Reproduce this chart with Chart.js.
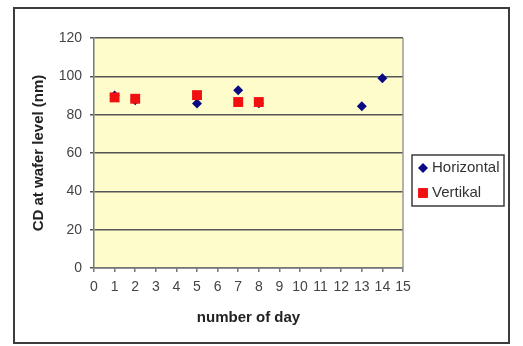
<!DOCTYPE html>
<html>
<head>
<meta charset="utf-8">
<script src="https://cdn.jsdelivr.net/npm/chart.js@4/dist/chart.umd.min.js"></script>
<style>
  html, body { margin: 0; padding: 0; background: #fff; }
  #wrap { width: 523px; height: 346px; }
</style>
</head>
<body>
<div id="wrap"><canvas id="cd"></canvas></div>
<script>
// CD measurements per day
const horizontalDays = [1, 2, 5, 7, 8, 13, 14];
const horizontalCD   = [90, 87.5, 85.8, 92.8, 86, 84.4, 99];
const vertikalDays   = [1, 2, 5, 7, 8];
const vertikalCD     = [89, 88.3, 90.2, 86.6, 86.6];

const seriesNames = ['Horizontal', 'Vertikal'];
const xTickValues = [0, 1, 2, 3, 4, 5, 6, 7, 8, 9, 10, 11, 12, 13, 14, 15];
const yTickValues = [0, 20, 40, 60, 80, 100, 120];

const toPoints = (xs, ys) => xs.map((x, i) => ({ x: x, y: ys[i] }));

const FONT = 'Arial, "Liberation Sans", sans-serif';

// Frame around the whole chart plus pale plot-area fill
const framePlugin = {
  id: 'frame',
  beforeDraw(chart) {
    const { ctx, chartArea: a } = chart;
    ctx.save();
    ctx.fillStyle = '#ffffff';
    ctx.fillRect(0, 0, chart.width, chart.height);
    ctx.fillStyle = '#fefccb';
    ctx.fillRect(a.left, a.top, a.right - a.left, a.bottom - a.top);
    ctx.strokeStyle = '#3c3c3c';
    ctx.lineWidth = 2;
    ctx.strokeRect(14, 8, 495, 335);
    ctx.restore();
  },
  afterDatasetsDraw(chart) {
    const { ctx, chartArea: a } = chart;
    ctx.save();
    ctx.strokeStyle = '#9a9a9a';
    ctx.lineWidth = 1.5;
    ctx.beginPath();
    ctx.moveTo(a.right, a.top);
    ctx.lineTo(a.right, a.bottom);
    ctx.stroke();
    ctx.restore();
  }
};

// Boxed legend to the right of the plot
const boxLegendPlugin = {
  id: 'boxLegend',
  afterDraw(chart) {
    const { ctx, chartArea: a } = chart;
    const x0 = a.right + 9, y0 = 155, w = 92, h = 51;
    ctx.save();
    ctx.fillStyle = '#ffffff';
    ctx.fillRect(x0, y0, w, h);
    ctx.strokeStyle = '#3c3c3c';
    ctx.lineWidth = 1.5;
    ctx.strokeRect(x0, y0, w, h);
    ctx.font = '15px ' + FONT;
    ctx.textBaseline = 'middle';
    ctx.textAlign = 'left';
    chart.data.datasets.forEach((ds, i) => {
      const cy = y0 + 13 + i * 25;
      ctx.fillStyle = ds.backgroundColor;
      Chart.helpers.drawPoint(ctx, {
        pointStyle: ds.pointStyle,
        radius: ds.pointRadius,
        borderWidth: 0
      }, x0 + 11, cy);
      ctx.fillStyle = '#333333';
      ctx.fillText(ds.label, x0 + 20, cy);
    });
    ctx.restore();
  }
};

new Chart(document.getElementById('cd'), {
  type: 'scatter',
  data: {
    datasets: [
      {
        label: seriesNames[0],
        data: toPoints(horizontalDays, horizontalCD),
        pointStyle: 'rectRot',
        pointRadius: 5,
        pointHoverRadius: 5,
        backgroundColor: '#0a0a82',
        borderColor: '#0a0a82',
        borderWidth: 0,
        order: 1
      },
      {
        label: seriesNames[1],
        data: toPoints(vertikalDays, vertikalCD),
        pointStyle: 'rect',
        pointRadius: 7,
        pointHoverRadius: 7,
        backgroundColor: '#f01010',
        borderColor: '#f01010',
        borderWidth: 0,
        order: 0
      }
    ]
  },
  options: {
    responsive: true,
    maintainAspectRatio: false,
    animation: false,
    events: [],
    layout: { padding: { left: 20, right: 120, top: 38, bottom: 10 } },
    plugins: {
      legend: { display: false },
      tooltip: { enabled: false }
    },
    scales: {
      x: {
        type: 'linear',
        min: 0,
        max: 15,
        afterBuildTicks(scale) { scale.ticks = xTickValues.map(v => ({ value: v })); },
        afterFit(scale) { scale.height = 68; },
        ticks: {
          autoSkip: false,
          maxRotation: 0,
          padding: 7,
          color: '#444444',
          font: { family: FONT, size: 14 }
        },
        grid: {
          drawOnChartArea: false,
          drawTicks: true,
          tickLength: 4,
          color: '#777777',
          lineWidth: 1.5
        },
        border: { color: '#777777', width: 1.5 },
        title: {
          display: true,
          text: 'number of day',
          color: '#222222',
          font: { family: FONT, size: 15, weight: 'bold' },
          padding: { top: 0, bottom: 9 }
        }
      },
      y: {
        type: 'linear',
        min: 0,
        max: 120,
        afterBuildTicks(scale) { scale.ticks = yTickValues.map(v => ({ value: v })); },
        afterFit(scale) { scale.width = 74; },
        ticks: {
          padding: 8,
          color: '#444444',
          font: { family: FONT, size: 14 }
        },
        grid: {
          color: '#555555',
          lineWidth: 1.5,
          drawTicks: true,
          tickLength: 4
        },
        border: { color: '#777777', width: 1.5 },
        title: {
          display: true,
          text: 'CD at wafer level (nm)',
          color: '#222222',
          font: { family: FONT, size: 15, weight: 'bold' },
          padding: { top: 10, bottom: 0 }
        }
      }
    }
  },
  plugins: [framePlugin, boxLegendPlugin]
});
</script>
</body>
</html>
